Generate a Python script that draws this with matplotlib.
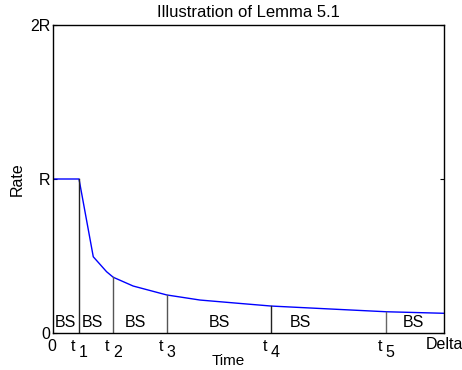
import matplotlib
matplotlib.use('Agg')
import matplotlib.pyplot as plt
from matplotlib.transforms import blended_transform_factory, offset_copy

plt.rcParams['font.family'] = ['Liberation Sans', 'DejaVu Sans']

# rate curve (time as fraction of Delta, rate in units of R)
curve_t = [0.0, 0.0665, 0.103, 0.137, 0.154, 0.205, 0.291, 0.376, 0.478, 0.558, 0.708, 0.852, 1.0]
curve_r = [1.0, 1.0, 0.495, 0.398, 0.362, 0.305, 0.247, 0.214, 0.192, 0.175, 0.156, 0.138, 0.128]

# switching times and the rate reached there
t_marks = [0.0665, 0.154, 0.291, 0.558, 0.852]
t_rates = [1.0, 0.362, 0.247, 0.175, 0.138]
t_subs = ['1', '2', '3', '4', '5']
line_cols = ['#222222', '#555555', '#555555', '#222222', '#666666']

# "BS" labels
bs_x = [0.033, 0.101, 0.210, 0.425, 0.632, 0.923]
bs_y = 0.07

yticks = [0, 1, 2]
ylabels = ['0', 'R', '2R']

fs = 11.5

fig = plt.figure(figsize=(4.62, 3.7), dpi=100)
ax = fig.add_axes([53 / 462, 1 - 333 / 370, 391 / 462, 308 / 370])

ax.plot(curve_t, curve_r, color='blue', lw=1)
for t, r, c in zip(t_marks, t_rates, line_cols):
    ax.plot([t, t], [0, r], color=c, lw=1)
for x in bs_x:
    ax.text(x, bs_y, 'BS', ha='center', va='center', fontsize=fs)

ax.set_xlim(0, 1)
ax.set_ylim(0, 2)
ax.set_yticks(yticks)
ax.set_yticklabels(ylabels, fontsize=fs)
ax.set_xticks([])
ax.tick_params(axis='y', direction='in', length=3, right=True, pad=2)
for s in ax.spines.values():
    s.set_linewidth(1)

# x tick labels: "t" with lowered index, like the original
tr = blended_transform_factory(ax.transData, ax.transAxes)
ax.text(0, -0.045, '0', transform=offset_copy(tr, fig=fig, x=-1, y=0, units='dots'),
        ha='center', va='center', fontsize=fs)
ax.text(1, -0.036, 'Delta', transform=tr, ha='center', va='center', fontsize=fs)
for t, s in zip(t_marks, t_subs):
    ax.text(t, -0.045, 't', transform=offset_copy(tr, fig=fig, x=-6, y=0, units='dots'),
            ha='center', va='center', fontsize=fs)
    ax.text(t, -0.063, s, transform=offset_copy(tr, fig=fig, x=4, y=0, units='dots'),
            ha='center', va='center', fontsize=fs)

ax.text((228 - 53) / 391, -(361 - 333) / 308, 'Time', transform=ax.transAxes,
        ha='center', va='center', fontsize=11)
ax.text(-(53 - 17.5) / 391, 0.5, 'Rate', transform=ax.transAxes, rotation=90,
        ha='center', va='center', fontsize=fs)
ax.set_title('Illustration of Lemma 5.1', fontsize=12, pad=5.5)

fig.savefig('out.png', dpi=100)
